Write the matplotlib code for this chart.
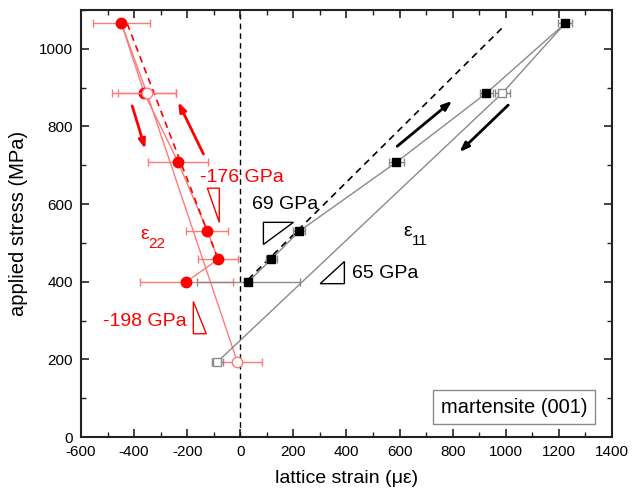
import matplotlib
matplotlib.use("Agg")
import matplotlib.pyplot as plt
from matplotlib.patches import Polygon
from matplotlib.ticker import MultipleLocator

plt.rcParams['font.family'] = ['Liberation Sans', 'DejaVu Sans']
plt.rcParams['axes.unicode_minus'] = False

# ---- data ----
# eps11 (black squares)
s11_load = [400, 458, 530, 708, 886, 1066]
e11_load = [30, 117, 222, 588, 927, 1224]
e11_load_err = [193, 22, 22, 28, 24, 26]
s11_unload = [886, 193]
e11_unload = [987, -87]
e11_unload_err = [28, 20]

# eps22 (red circles)
s22_load = [400, 458, 530, 708, 886, 1066]
e22_load = [-203, -83, -124, -234, -362, -448]
e22_load_err = [175, 75, 79, 112, 120, 108]
s22_unload = [886, 193]
e22_unload = [-352, -11]
e22_unload_err = [108, 94]

# fitted slopes (dashed)
fit11_e = [30, 991]
fit11_s = [406, 1057]
fit22_e = [-426, -83]
fit22_s = [1065, 457]

# slope triangles
tri_176 = [(-124, 641), (-79, 641), (-79, 553)]
tri_198 = [(-177, 349), (-177, 266), (-128, 266)]
tri_69 = [(87, 553), (200, 553), (87, 496)]
tri_65 = [(301, 395), (392, 395), (392, 452)]

xticks = [-600, -400, -200, 0, 200, 400, 600, 800, 1000, 1200, 1400]
yticks = [0, 200, 400, 600, 800, 1000]

RED = '#ff0000'
LRED = '#ff7a7a'
GREY = '#8a8a8a'

fig = plt.figure(figsize=(6.44, 4.94), dpi=100)
ax = fig.add_axes([81/644, 1-437/494, (612-81)/644, (437-10)/494])

# zero line
ax.axvline(0, color='black', ls=(0, (4, 3)), lw=1.0, zorder=1)

# eps22 lines
ax.plot(e22_load, s22_load, color=LRED, lw=1.0, zorder=2)
ax.plot([e22_load[-1]] + e22_unload, [s22_load[-1]] + s22_unload, color=LRED, lw=1.0, zorder=2)
ax.plot(fit22_e, fit22_s, color=RED, lw=1.2, ls=(0, (4, 3)), zorder=2)

# eps11 lines
ax.plot(e11_load, s11_load, color=GREY, lw=1.0, zorder=2)
ax.plot([e11_load[-1]] + e11_unload, [s11_load[-1]] + s11_unload, color=GREY, lw=1.0, zorder=2)
ax.plot(fit11_e, fit11_s, color='black', lw=1.2, ls=(0, (4, 3)), zorder=2)

# error bars
ax.errorbar(e22_load, s22_load, xerr=e22_load_err, fmt='o', color=RED, ms=7.5,
            ecolor=LRED, elinewidth=1.0, capsize=3, capthick=1.0, zorder=4)
ax.errorbar(e22_unload, s22_unload, xerr=e22_unload_err, fmt='o', mfc='white', mec=LRED,
            ms=7.5, ecolor=LRED, elinewidth=1.0, capsize=3, capthick=1.0, zorder=5)
ax.errorbar(e11_load, s11_load, xerr=e11_load_err, fmt='s', color='black', ms=6.2,
            ecolor=GREY, elinewidth=1.0, capsize=3, capthick=1.0, zorder=4)
ax.errorbar(e11_unload, s11_unload, xerr=e11_unload_err, fmt='s', mfc='white', mec=GREY,
            ms=6.2, ecolor=GREY, elinewidth=1.0, capsize=3, capthick=1.0, zorder=5)

# arrows
def arrow(x0, y0, x1, y1, c):
    ax.annotate('', xy=(x1, y1), xytext=(x0, y0),
                arrowprops=dict(arrowstyle='-|>,head_length=0.55,head_width=0.2',
                                color=c, lw=2.0, shrinkA=0, shrinkB=0), zorder=6)

arrow(-407, 853, -358, 742, RED)
arrow(-139, 729, -234, 863, RED)
arrow(591, 749, 798, 866, 'black')
arrow(1009, 855, 825, 734, 'black')

# triangles
for tri, c in [(tri_176, RED), (tri_198, RED), (tri_69, 'black'), (tri_65, 'black')]:
    ax.add_patch(Polygon(tri, closed=True, fill=False, edgecolor=c, lw=1.0, zorder=3))

# texts
ax.text(-151, 669, '-176 GPa', color=RED, fontsize=14, va='center', ha='left')
ax.text(-516, 297, '-198 GPa', color=RED, fontsize=14, va='center', ha='left')
ax.text(45, 600, '69 GPa', color='black', fontsize=14, va='center', ha='left')
ax.text(422, 421, '65 GPa', color='black', fontsize=14, va='center', ha='left')
ax.text(-377, 522, 'ε', color=RED, fontsize=14, va='center', ha='left')
ax.text(-345, 497, '22', color=RED, fontsize=11, va='center', ha='left')
ax.text(614, 530, 'ε', color='black', fontsize=14, va='center', ha='left')
ax.text(646, 505, '11', color='black', fontsize=11, va='center', ha='left')

ax.text(0.815, 0.070, 'martensite (001)', transform=ax.transAxes, fontsize=14.5,
        ha='center', va='center',
        bbox=dict(boxstyle='square,pad=0.38', fc='white', ec='#8a8a8a', lw=1.0))

ax.set_xlim(-600, 1400)
ax.set_ylim(0, 1100)
ax.set_xticks(xticks)
ax.set_yticks(yticks)
ax.xaxis.set_minor_locator(MultipleLocator(100))
ax.yaxis.set_minor_locator(MultipleLocator(100))
ax.tick_params(which='both', direction='in', top=True, right=True, labelsize=11,
               color='#222222')
ax.tick_params(axis='x', which='major', pad=6)
ax.tick_params(axis='y', which='major', pad=6)
ax.tick_params(which='major', length=6, width=1.2)
ax.tick_params(which='minor', length=3.5, width=1.0)
for sp in ax.spines.values():
    sp.set_linewidth(1.5)
    sp.set_color('#222222')

ax.set_xlabel('lattice strain (με)', fontsize=14, labelpad=8)
ax.set_ylabel('applied stress (MPa)', fontsize=14.5, labelpad=8)

fig.savefig('out.png', dpi=100)
